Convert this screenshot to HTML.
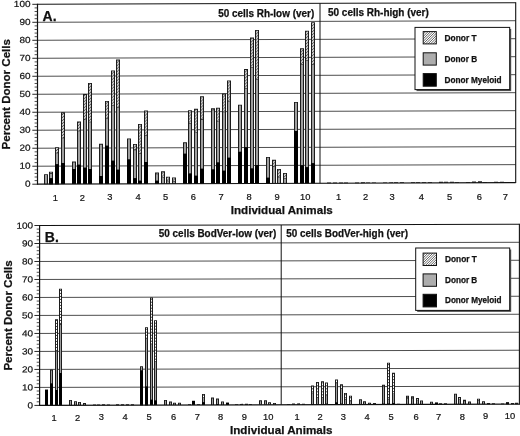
<!DOCTYPE html>
<html><head><meta charset="utf-8"><title>Donor cell chart</title>
<style>html,body{margin:0;padding:0;background:#fff;}svg{display:block;will-change:transform;}</style></head><body>
<svg width="520" height="436" viewBox="0 0 520 436">
<defs>
<pattern id="hatch" patternUnits="userSpaceOnUse" width="3" height="3"><rect width="3" height="3" fill="#fff"/><path d="M-0.5,3.5 L3.5,-0.5 M-0.5,0.5 L0.5,-0.5 M2.5,3.5 L3.5,2.5" stroke="#3a3a3a" stroke-width="0.95" fill="none"/></pattern>
<pattern id="hatchL" patternUnits="userSpaceOnUse" width="2" height="2"><rect width="2" height="2" fill="#fff"/><path d="M-0.5,2.5 L2.5,-0.5 M-0.5,0.5 L0.5,-0.5 M1.5,2.5 L2.5,1.5" stroke="#333" stroke-width="0.55" fill="none"/></pattern>
<pattern id="hatchB" patternUnits="userSpaceOnUse" width="3" height="3"><rect width="3" height="3" fill="#fff"/><rect y="2" width="3" height="1" fill="#444"/></pattern>
</defs>
<rect width="520" height="436" fill="#fff"/>
<g transform="matrix(1,-0.0033,0,1,0,0.124)">
<line x1="37.5" y1="166.21" x2="515.7" y2="166.21" stroke="#2e2e2e" stroke-width="0.85"/>
<line x1="37.5" y1="148.22" x2="515.7" y2="148.22" stroke="#2e2e2e" stroke-width="0.85"/>
<line x1="37.5" y1="130.23" x2="515.7" y2="130.23" stroke="#2e2e2e" stroke-width="0.85"/>
<line x1="37.5" y1="112.24" x2="515.7" y2="112.24" stroke="#2e2e2e" stroke-width="0.85"/>
<line x1="37.5" y1="94.25" x2="515.7" y2="94.25" stroke="#2e2e2e" stroke-width="0.85"/>
<line x1="37.5" y1="76.26" x2="515.7" y2="76.26" stroke="#2e2e2e" stroke-width="0.85"/>
<line x1="37.5" y1="58.27" x2="515.7" y2="58.27" stroke="#2e2e2e" stroke-width="0.85"/>
<line x1="37.5" y1="40.28" x2="515.7" y2="40.28" stroke="#2e2e2e" stroke-width="0.85"/>
<line x1="37.5" y1="22.29" x2="515.7" y2="22.29" stroke="#2e2e2e" stroke-width="0.85"/>
<rect x="44" y="174.27" width="4" height="9.93" fill="#1c1c1c"/>
<rect x="45" y="175.12" width="2" height="9.08" fill="#9e9e9e"/>
<rect x="49" y="171.75" width="4" height="12.45" fill="#1c1c1c"/>
<rect x="50" y="172.60" width="2" height="0.54" fill="url(#hatch)"/>
<rect x="50" y="173.68" width="2" height="4.59" fill="#9e9e9e"/>
<rect x="49" y="178.26" width="4" height="5.94" fill="#000"/>
<rect x="55" y="147.28" width="4" height="36.92" fill="#1c1c1c"/>
<rect x="56" y="148.13" width="2" height="4.68" fill="url(#hatch)"/>
<rect x="56" y="153.35" width="2" height="10.88" fill="#9e9e9e"/>
<rect x="55" y="164.23" width="4" height="19.97" fill="#000"/>
<rect x="61" y="112.38" width="4" height="71.82" fill="#1c1c1c"/>
<rect x="62" y="113.23" width="2" height="24.65" fill="url(#hatch)"/>
<rect x="62" y="138.42" width="2" height="24.74" fill="#9e9e9e"/>
<rect x="61" y="163.15" width="4" height="21.05" fill="#000"/>
<rect x="72" y="161.67" width="4" height="22.53" fill="#1c1c1c"/>
<rect x="73" y="162.52" width="2" height="6.57" fill="#9e9e9e"/>
<rect x="72" y="169.09" width="4" height="15.11" fill="#000"/>
<rect x="77" y="121.73" width="4" height="62.47" fill="#1c1c1c"/>
<rect x="78" y="122.58" width="2" height="8.27" fill="url(#hatch)"/>
<rect x="78" y="131.40" width="2" height="33.55" fill="#9e9e9e"/>
<rect x="77" y="164.95" width="4" height="19.25" fill="#000"/>
<rect x="83" y="94.21" width="4" height="89.99" fill="#1c1c1c"/>
<rect x="84" y="95.06" width="2" height="24.65" fill="url(#hatch)"/>
<rect x="84" y="120.25" width="2" height="47.76" fill="#9e9e9e"/>
<rect x="83" y="168.01" width="4" height="16.19" fill="#000"/>
<rect x="88" y="83.06" width="4" height="101.14" fill="#1c1c1c"/>
<rect x="89" y="83.91" width="2" height="37.96" fill="url(#hatch)"/>
<rect x="89" y="122.40" width="2" height="46.68" fill="#9e9e9e"/>
<rect x="88" y="169.09" width="4" height="15.11" fill="#000"/>
<rect x="99" y="144.04" width="4" height="40.16" fill="#1c1c1c"/>
<rect x="100" y="144.89" width="2" height="31.21" fill="#9e9e9e"/>
<rect x="99" y="176.10" width="4" height="8.10" fill="#000"/>
<rect x="105" y="101.23" width="4" height="82.97" fill="#1c1c1c"/>
<rect x="106" y="102.08" width="2" height="16.19" fill="url(#hatch)"/>
<rect x="106" y="118.81" width="2" height="27.25" fill="#9e9e9e"/>
<rect x="105" y="146.06" width="4" height="38.14" fill="#000"/>
<rect x="111" y="70.64" width="4" height="113.56" fill="#1c1c1c"/>
<rect x="112" y="71.49" width="2" height="33.82" fill="url(#hatch)"/>
<rect x="112" y="105.85" width="2" height="55.14" fill="#9e9e9e"/>
<rect x="111" y="160.99" width="4" height="23.21" fill="#000"/>
<rect x="116" y="59.85" width="4" height="124.35" fill="#1c1c1c"/>
<rect x="117" y="60.70" width="2" height="46.77" fill="url(#hatch)"/>
<rect x="117" y="108.01" width="2" height="61.98" fill="#9e9e9e"/>
<rect x="116" y="169.99" width="4" height="14.21" fill="#000"/>
<rect x="127" y="138.82" width="4" height="45.37" fill="#1c1c1c"/>
<rect x="128" y="139.67" width="2" height="20.06" fill="#9e9e9e"/>
<rect x="127" y="159.73" width="4" height="24.47" fill="#000"/>
<rect x="133" y="144.22" width="4" height="39.98" fill="#1c1c1c"/>
<rect x="134" y="145.07" width="2" height="4.86" fill="url(#hatch)"/>
<rect x="134" y="150.47" width="2" height="28.15" fill="#9e9e9e"/>
<rect x="133" y="178.62" width="4" height="5.58" fill="#000"/>
<rect x="138" y="124.25" width="4" height="59.95" fill="#1c1c1c"/>
<rect x="139" y="125.10" width="2" height="28.78" fill="url(#hatch)"/>
<rect x="139" y="154.43" width="2" height="26.71" fill="#9e9e9e"/>
<rect x="138" y="181.14" width="4" height="3.06" fill="#000"/>
<rect x="144" y="110.76" width="4" height="73.44" fill="#1c1c1c"/>
<rect x="145" y="111.61" width="2" height="23.93" fill="url(#hatch)"/>
<rect x="145" y="136.08" width="2" height="26.18" fill="#9e9e9e"/>
<rect x="144" y="162.25" width="4" height="21.95" fill="#000"/>
<rect x="155" y="172.83" width="4" height="11.37" fill="#1c1c1c"/>
<rect x="156" y="173.68" width="2" height="0.36" fill="url(#hatch)"/>
<rect x="156" y="174.58" width="2" height="6.57" fill="#9e9e9e"/>
<rect x="155" y="181.14" width="4" height="3.06" fill="#000"/>
<rect x="161" y="171.75" width="4" height="12.45" fill="#1c1c1c"/>
<rect x="162" y="172.60" width="2" height="5.40" fill="url(#hatch)"/>
<rect x="162" y="178.53" width="2" height="5.67" fill="#9e9e9e"/>
<rect x="166" y="177.14" width="4" height="7.06" fill="#1c1c1c"/>
<rect x="167" y="177.99" width="2" height="3.24" fill="url(#hatch)"/>
<rect x="167" y="181.77" width="2" height="2.43" fill="#9e9e9e"/>
<rect x="172" y="177.86" width="4" height="6.34" fill="#1c1c1c"/>
<rect x="173" y="178.71" width="2" height="2.88" fill="url(#hatch)"/>
<rect x="173" y="182.13" width="2" height="2.07" fill="#9e9e9e"/>
<rect x="183" y="142.78" width="4" height="41.42" fill="#1c1c1c"/>
<rect x="184" y="143.63" width="2" height="10.52" fill="#9e9e9e"/>
<rect x="183" y="154.16" width="4" height="30.04" fill="#000"/>
<rect x="188" y="110.76" width="4" height="73.44" fill="#1c1c1c"/>
<rect x="189" y="111.61" width="2" height="11.87" fill="url(#hatch)"/>
<rect x="189" y="124.02" width="2" height="50.10" fill="#9e9e9e"/>
<rect x="188" y="174.13" width="4" height="10.07" fill="#000"/>
<rect x="194" y="109.32" width="4" height="74.88" fill="#1c1c1c"/>
<rect x="195" y="110.17" width="2" height="22.85" fill="url(#hatch)"/>
<rect x="195" y="133.56" width="2" height="42.73" fill="#9e9e9e"/>
<rect x="194" y="176.28" width="4" height="7.92" fill="#000"/>
<rect x="200" y="96.73" width="4" height="87.47" fill="#1c1c1c"/>
<rect x="201" y="97.58" width="2" height="22.31" fill="url(#hatch)"/>
<rect x="201" y="120.43" width="2" height="48.84" fill="#9e9e9e"/>
<rect x="200" y="169.27" width="4" height="14.93" fill="#000"/>
<rect x="211" y="108.78" width="4" height="75.42" fill="#1c1c1c"/>
<rect x="212" y="109.63" width="2" height="0.54" fill="url(#hatch)"/>
<rect x="212" y="110.71" width="2" height="59.46" fill="#9e9e9e"/>
<rect x="211" y="170.17" width="4" height="14.03" fill="#000"/>
<rect x="216" y="108.24" width="4" height="75.96" fill="#1c1c1c"/>
<rect x="217" y="109.09" width="2" height="12.95" fill="url(#hatch)"/>
<rect x="217" y="122.58" width="2" height="40.57" fill="#9e9e9e"/>
<rect x="216" y="163.15" width="4" height="21.05" fill="#000"/>
<rect x="222" y="94.21" width="4" height="89.99" fill="#1c1c1c"/>
<rect x="223" y="95.06" width="2" height="17.27" fill="url(#hatch)"/>
<rect x="223" y="112.87" width="2" height="58.38" fill="#9e9e9e"/>
<rect x="222" y="171.25" width="4" height="12.95" fill="#000"/>
<rect x="227" y="81.08" width="4" height="103.12" fill="#1c1c1c"/>
<rect x="228" y="81.93" width="2" height="20.15" fill="url(#hatch)"/>
<rect x="228" y="102.62" width="2" height="55.68" fill="#9e9e9e"/>
<rect x="227" y="158.29" width="4" height="25.91" fill="#000"/>
<rect x="238" y="105.36" width="4" height="78.84" fill="#1c1c1c"/>
<rect x="239" y="106.21" width="2" height="46.32" fill="#9e9e9e"/>
<rect x="238" y="152.54" width="4" height="31.66" fill="#000"/>
<rect x="244" y="69.74" width="4" height="114.46" fill="#1c1c1c"/>
<rect x="245" y="70.59" width="2" height="18.17" fill="url(#hatch)"/>
<rect x="245" y="89.30" width="2" height="58.56" fill="#9e9e9e"/>
<rect x="244" y="147.86" width="4" height="36.34" fill="#000"/>
<rect x="250" y="38.26" width="4" height="145.94" fill="#1c1c1c"/>
<rect x="251" y="39.11" width="2" height="28.60" fill="url(#hatch)"/>
<rect x="251" y="68.25" width="2" height="101.01" fill="#9e9e9e"/>
<rect x="250" y="169.27" width="4" height="14.93" fill="#000"/>
<rect x="255" y="30.71" width="4" height="153.49" fill="#1c1c1c"/>
<rect x="256" y="31.56" width="2" height="48.21" fill="url(#hatch)"/>
<rect x="256" y="80.31" width="2" height="85.54" fill="#9e9e9e"/>
<rect x="255" y="165.85" width="4" height="18.35" fill="#000"/>
<rect x="266" y="157.71" width="4" height="26.49" fill="#1c1c1c"/>
<rect x="267" y="158.56" width="2" height="19.88" fill="#9e9e9e"/>
<rect x="266" y="178.44" width="4" height="5.76" fill="#000"/>
<rect x="272" y="160.59" width="4" height="23.61" fill="#1c1c1c"/>
<rect x="273" y="161.44" width="2" height="5.76" fill="url(#hatch)"/>
<rect x="273" y="167.74" width="2" height="16.46" fill="#9e9e9e"/>
<rect x="277" y="169.77" width="4" height="14.43" fill="#1c1c1c"/>
<rect x="278" y="170.62" width="2" height="7.02" fill="url(#hatch)"/>
<rect x="278" y="178.17" width="2" height="6.03" fill="#9e9e9e"/>
<rect x="283" y="173.73" width="4" height="10.47" fill="#1c1c1c"/>
<rect x="284" y="174.58" width="2" height="4.14" fill="url(#hatch)"/>
<rect x="284" y="179.25" width="2" height="4.95" fill="#9e9e9e"/>
<rect x="294" y="102.84" width="4" height="81.35" fill="#1c1c1c"/>
<rect x="295" y="103.70" width="2" height="28.15" fill="#9e9e9e"/>
<rect x="294" y="131.85" width="4" height="52.35" fill="#000"/>
<rect x="300" y="49.23" width="4" height="134.97" fill="#1c1c1c"/>
<rect x="301" y="50.08" width="2" height="15.11" fill="url(#hatch)"/>
<rect x="301" y="65.74" width="2" height="100.47" fill="#9e9e9e"/>
<rect x="300" y="166.21" width="4" height="17.99" fill="#000"/>
<rect x="305" y="31.60" width="4" height="152.60" fill="#1c1c1c"/>
<rect x="306" y="32.45" width="2" height="28.42" fill="url(#hatch)"/>
<rect x="306" y="61.42" width="2" height="106.77" fill="#9e9e9e"/>
<rect x="305" y="168.19" width="4" height="16.01" fill="#000"/>
<rect x="311" y="23.15" width="4" height="161.05" fill="#1c1c1c"/>
<rect x="312" y="24.00" width="2" height="41.20" fill="url(#hatch)"/>
<rect x="312" y="65.74" width="2" height="98.50" fill="#9e9e9e"/>
<rect x="311" y="164.23" width="4" height="19.97" fill="#000"/>
<rect x="327" y="183.54" width="4" height="0.66" fill="#222"/>
<rect x="333" y="183.54" width="4" height="0.66" fill="#222"/>
<rect x="339" y="183.54" width="4" height="0.66" fill="#222"/>
<rect x="344" y="183.54" width="4" height="0.66" fill="#222"/>
<rect x="355" y="183.54" width="4" height="0.66" fill="#222"/>
<rect x="361" y="183.36" width="4" height="0.84" fill="#222"/>
<rect x="366" y="183.54" width="4" height="0.66" fill="#222"/>
<rect x="372" y="183.54" width="4" height="0.66" fill="#222"/>
<rect x="383" y="183.54" width="4" height="0.66" fill="#222"/>
<rect x="389" y="183.54" width="4" height="0.66" fill="#222"/>
<rect x="394" y="183.54" width="4" height="0.66" fill="#222"/>
<rect x="400" y="183.54" width="4" height="0.66" fill="#222"/>
<rect x="411" y="183.54" width="4" height="0.66" fill="#222"/>
<rect x="416" y="183.54" width="4" height="0.66" fill="#222"/>
<rect x="422" y="183.54" width="4" height="0.66" fill="#222"/>
<rect x="428" y="183.54" width="4" height="0.66" fill="#222"/>
<rect x="439" y="183.00" width="4" height="1.20" fill="#222"/>
<rect x="444" y="183.18" width="4" height="1.02" fill="#222"/>
<rect x="450" y="183.18" width="4" height="1.02" fill="#222"/>
<rect x="455" y="183.36" width="4" height="0.84" fill="#222"/>
<rect x="466" y="183.36" width="4" height="0.84" fill="#222"/>
<rect x="472" y="183.00" width="4" height="1.20" fill="#222"/>
<rect x="478" y="182.82" width="4" height="1.38" fill="#222"/>
<rect x="483" y="183.54" width="4" height="0.66" fill="#222"/>
<rect x="494" y="183.36" width="4" height="0.84" fill="#222"/>
<rect x="500" y="183.36" width="4" height="0.84" fill="#222"/>
<rect x="505" y="183.54" width="4" height="0.66" fill="#222"/>
<rect x="511" y="183.54" width="4" height="0.66" fill="#222"/>
<line x1="37.5" y1="4.3" x2="515.7" y2="4.3" stroke="#111" stroke-width="1"/>
<line x1="37.5" y1="184.2" x2="515.7" y2="184.2" stroke="#111" stroke-width="1.2"/>
<line x1="37.5" y1="3.8" x2="37.5" y2="184.7" stroke="#111" stroke-width="1.2"/>
<line x1="515.7" y1="3.8" x2="515.7" y2="184.7" stroke="#111" stroke-width="1.1"/>
<line x1="320.0" y1="4.3" x2="320.0" y2="184.2" stroke="#111" stroke-width="1"/>
<line x1="32.3" y1="184.20" x2="37.5" y2="184.20" stroke="#111" stroke-width="0.9"/>
<text x="30.50" y="186.80" font-size="8.8" text-anchor="end" font-family="Liberation Sans, sans-serif" fill="#111" stroke="#111" stroke-width="0.2" textLength="5.55" lengthAdjust="spacingAndGlyphs">0</text>
<line x1="34.6" y1="180.60" x2="37.5" y2="180.60" stroke="#222" stroke-width="0.8"/>
<line x1="34.6" y1="177.00" x2="37.5" y2="177.00" stroke="#222" stroke-width="0.8"/>
<line x1="34.6" y1="173.41" x2="37.5" y2="173.41" stroke="#222" stroke-width="0.8"/>
<line x1="34.6" y1="169.81" x2="37.5" y2="169.81" stroke="#222" stroke-width="0.8"/>
<line x1="32.3" y1="166.21" x2="37.5" y2="166.21" stroke="#111" stroke-width="0.9"/>
<text x="30.50" y="168.81" font-size="8.8" text-anchor="end" font-family="Liberation Sans, sans-serif" fill="#111" stroke="#111" stroke-width="0.2" textLength="11.10" lengthAdjust="spacingAndGlyphs">10</text>
<line x1="34.6" y1="162.61" x2="37.5" y2="162.61" stroke="#222" stroke-width="0.8"/>
<line x1="34.6" y1="159.01" x2="37.5" y2="159.01" stroke="#222" stroke-width="0.8"/>
<line x1="34.6" y1="155.42" x2="37.5" y2="155.42" stroke="#222" stroke-width="0.8"/>
<line x1="34.6" y1="151.82" x2="37.5" y2="151.82" stroke="#222" stroke-width="0.8"/>
<line x1="32.3" y1="148.22" x2="37.5" y2="148.22" stroke="#111" stroke-width="0.9"/>
<text x="30.50" y="150.82" font-size="8.8" text-anchor="end" font-family="Liberation Sans, sans-serif" fill="#111" stroke="#111" stroke-width="0.2" textLength="11.10" lengthAdjust="spacingAndGlyphs">20</text>
<line x1="34.6" y1="144.62" x2="37.5" y2="144.62" stroke="#222" stroke-width="0.8"/>
<line x1="34.6" y1="141.02" x2="37.5" y2="141.02" stroke="#222" stroke-width="0.8"/>
<line x1="34.6" y1="137.43" x2="37.5" y2="137.43" stroke="#222" stroke-width="0.8"/>
<line x1="34.6" y1="133.83" x2="37.5" y2="133.83" stroke="#222" stroke-width="0.8"/>
<line x1="32.3" y1="130.23" x2="37.5" y2="130.23" stroke="#111" stroke-width="0.9"/>
<text x="30.50" y="132.83" font-size="8.8" text-anchor="end" font-family="Liberation Sans, sans-serif" fill="#111" stroke="#111" stroke-width="0.2" textLength="11.10" lengthAdjust="spacingAndGlyphs">30</text>
<line x1="34.6" y1="126.63" x2="37.5" y2="126.63" stroke="#222" stroke-width="0.8"/>
<line x1="34.6" y1="123.03" x2="37.5" y2="123.03" stroke="#222" stroke-width="0.8"/>
<line x1="34.6" y1="119.44" x2="37.5" y2="119.44" stroke="#222" stroke-width="0.8"/>
<line x1="34.6" y1="115.84" x2="37.5" y2="115.84" stroke="#222" stroke-width="0.8"/>
<line x1="32.3" y1="112.24" x2="37.5" y2="112.24" stroke="#111" stroke-width="0.9"/>
<text x="30.50" y="114.84" font-size="8.8" text-anchor="end" font-family="Liberation Sans, sans-serif" fill="#111" stroke="#111" stroke-width="0.2" textLength="11.10" lengthAdjust="spacingAndGlyphs">40</text>
<line x1="34.6" y1="108.64" x2="37.5" y2="108.64" stroke="#222" stroke-width="0.8"/>
<line x1="34.6" y1="105.04" x2="37.5" y2="105.04" stroke="#222" stroke-width="0.8"/>
<line x1="34.6" y1="101.45" x2="37.5" y2="101.45" stroke="#222" stroke-width="0.8"/>
<line x1="34.6" y1="97.85" x2="37.5" y2="97.85" stroke="#222" stroke-width="0.8"/>
<line x1="32.3" y1="94.25" x2="37.5" y2="94.25" stroke="#111" stroke-width="0.9"/>
<text x="30.50" y="96.85" font-size="8.8" text-anchor="end" font-family="Liberation Sans, sans-serif" fill="#111" stroke="#111" stroke-width="0.2" textLength="11.10" lengthAdjust="spacingAndGlyphs">50</text>
<line x1="34.6" y1="90.65" x2="37.5" y2="90.65" stroke="#222" stroke-width="0.8"/>
<line x1="34.6" y1="87.05" x2="37.5" y2="87.05" stroke="#222" stroke-width="0.8"/>
<line x1="34.6" y1="83.46" x2="37.5" y2="83.46" stroke="#222" stroke-width="0.8"/>
<line x1="34.6" y1="79.86" x2="37.5" y2="79.86" stroke="#222" stroke-width="0.8"/>
<line x1="32.3" y1="76.26" x2="37.5" y2="76.26" stroke="#111" stroke-width="0.9"/>
<text x="30.50" y="78.86" font-size="8.8" text-anchor="end" font-family="Liberation Sans, sans-serif" fill="#111" stroke="#111" stroke-width="0.2" textLength="11.10" lengthAdjust="spacingAndGlyphs">60</text>
<line x1="34.6" y1="72.66" x2="37.5" y2="72.66" stroke="#222" stroke-width="0.8"/>
<line x1="34.6" y1="69.06" x2="37.5" y2="69.06" stroke="#222" stroke-width="0.8"/>
<line x1="34.6" y1="65.47" x2="37.5" y2="65.47" stroke="#222" stroke-width="0.8"/>
<line x1="34.6" y1="61.87" x2="37.5" y2="61.87" stroke="#222" stroke-width="0.8"/>
<line x1="32.3" y1="58.27" x2="37.5" y2="58.27" stroke="#111" stroke-width="0.9"/>
<text x="30.50" y="60.87" font-size="8.8" text-anchor="end" font-family="Liberation Sans, sans-serif" fill="#111" stroke="#111" stroke-width="0.2" textLength="11.10" lengthAdjust="spacingAndGlyphs">70</text>
<line x1="34.6" y1="54.67" x2="37.5" y2="54.67" stroke="#222" stroke-width="0.8"/>
<line x1="34.6" y1="51.07" x2="37.5" y2="51.07" stroke="#222" stroke-width="0.8"/>
<line x1="34.6" y1="47.48" x2="37.5" y2="47.48" stroke="#222" stroke-width="0.8"/>
<line x1="34.6" y1="43.88" x2="37.5" y2="43.88" stroke="#222" stroke-width="0.8"/>
<line x1="32.3" y1="40.28" x2="37.5" y2="40.28" stroke="#111" stroke-width="0.9"/>
<text x="30.50" y="42.88" font-size="8.8" text-anchor="end" font-family="Liberation Sans, sans-serif" fill="#111" stroke="#111" stroke-width="0.2" textLength="11.10" lengthAdjust="spacingAndGlyphs">80</text>
<line x1="34.6" y1="36.68" x2="37.5" y2="36.68" stroke="#222" stroke-width="0.8"/>
<line x1="34.6" y1="33.08" x2="37.5" y2="33.08" stroke="#222" stroke-width="0.8"/>
<line x1="34.6" y1="29.49" x2="37.5" y2="29.49" stroke="#222" stroke-width="0.8"/>
<line x1="34.6" y1="25.89" x2="37.5" y2="25.89" stroke="#222" stroke-width="0.8"/>
<line x1="32.3" y1="22.29" x2="37.5" y2="22.29" stroke="#111" stroke-width="0.9"/>
<text x="30.50" y="24.89" font-size="8.8" text-anchor="end" font-family="Liberation Sans, sans-serif" fill="#111" stroke="#111" stroke-width="0.2" textLength="11.10" lengthAdjust="spacingAndGlyphs">90</text>
<line x1="34.6" y1="18.69" x2="37.5" y2="18.69" stroke="#222" stroke-width="0.8"/>
<line x1="34.6" y1="15.09" x2="37.5" y2="15.09" stroke="#222" stroke-width="0.8"/>
<line x1="34.6" y1="11.50" x2="37.5" y2="11.50" stroke="#222" stroke-width="0.8"/>
<line x1="34.6" y1="7.90" x2="37.5" y2="7.90" stroke="#222" stroke-width="0.8"/>
<line x1="32.3" y1="4.30" x2="37.5" y2="4.30" stroke="#111" stroke-width="0.9"/>
<text x="30.50" y="6.90" font-size="8.8" text-anchor="end" font-family="Liberation Sans, sans-serif" fill="#111" stroke="#111" stroke-width="0.2" textLength="16.65" lengthAdjust="spacingAndGlyphs">100</text>
</g>
<g transform="matrix(1,-0.0025,0,1,0,0.099)">
<line x1="39.6" y1="387.41" x2="519.4" y2="387.41" stroke="#2e2e2e" stroke-width="0.85"/>
<line x1="39.6" y1="369.42" x2="519.4" y2="369.42" stroke="#2e2e2e" stroke-width="0.85"/>
<line x1="39.6" y1="351.43" x2="519.4" y2="351.43" stroke="#2e2e2e" stroke-width="0.85"/>
<line x1="39.6" y1="333.44" x2="519.4" y2="333.44" stroke="#2e2e2e" stroke-width="0.85"/>
<line x1="39.6" y1="315.45" x2="519.4" y2="315.45" stroke="#2e2e2e" stroke-width="0.85"/>
<line x1="39.6" y1="297.46" x2="519.4" y2="297.46" stroke="#2e2e2e" stroke-width="0.85"/>
<line x1="39.6" y1="279.47" x2="519.4" y2="279.47" stroke="#2e2e2e" stroke-width="0.85"/>
<line x1="39.6" y1="261.48" x2="519.4" y2="261.48" stroke="#2e2e2e" stroke-width="0.85"/>
<line x1="39.6" y1="243.49" x2="519.4" y2="243.49" stroke="#2e2e2e" stroke-width="0.85"/>
<rect x="45" y="389.53" width="3" height="15.87" fill="#1c1c1c"/>
<rect x="45" y="389.93" width="3" height="15.47" fill="#000"/>
<rect x="50" y="369.56" width="3" height="35.84" fill="#1c1c1c"/>
<rect x="51" y="370.41" width="1" height="13.22" fill="#9e9e9e"/>
<rect x="50" y="383.63" width="3" height="21.77" fill="#000"/>
<rect x="55" y="319.19" width="3" height="86.21" fill="#1c1c1c"/>
<rect x="56" y="320.04" width="1" height="31.30" fill="url(#hatchB)"/>
<rect x="56" y="351.88" width="1" height="38.05" fill="#9e9e9e"/>
<rect x="55" y="389.93" width="3" height="15.47" fill="#000"/>
<rect x="59" y="288.78" width="3" height="116.62" fill="#1c1c1c"/>
<rect x="60" y="289.63" width="1" height="34.54" fill="url(#hatchB)"/>
<rect x="60" y="324.71" width="1" height="48.30" fill="#9e9e9e"/>
<rect x="59" y="373.02" width="3" height="32.38" fill="#000"/>
<rect x="69" y="399.96" width="3" height="5.44" fill="#1c1c1c"/>
<rect x="70" y="400.81" width="1" height="4.59" fill="#9e9e9e"/>
<rect x="74" y="401.22" width="3" height="4.18" fill="#1c1c1c"/>
<rect x="75" y="402.07" width="1" height="3.33" fill="#9e9e9e"/>
<rect x="78" y="402.12" width="3" height="3.28" fill="#1c1c1c"/>
<rect x="79" y="402.97" width="1" height="2.43" fill="#9e9e9e"/>
<rect x="83" y="403.20" width="3" height="2.20" fill="#1c1c1c"/>
<rect x="84" y="404.05" width="1" height="1.35" fill="#9e9e9e"/>
<rect x="93" y="404.56" width="3" height="0.84" fill="#222"/>
<rect x="97" y="404.56" width="3" height="0.84" fill="#222"/>
<rect x="102" y="404.38" width="3" height="1.02" fill="#222"/>
<rect x="107" y="404.56" width="3" height="0.84" fill="#222"/>
<rect x="116" y="404.56" width="3" height="0.84" fill="#222"/>
<rect x="121" y="404.38" width="3" height="1.02" fill="#222"/>
<rect x="126" y="404.56" width="3" height="0.84" fill="#222"/>
<rect x="131" y="404.56" width="3" height="0.84" fill="#222"/>
<rect x="140" y="366.50" width="3" height="38.90" fill="#1c1c1c"/>
<rect x="141" y="367.35" width="1" height="3.51" fill="#9e9e9e"/>
<rect x="140" y="370.86" width="3" height="34.54" fill="#000"/>
<rect x="145" y="327.46" width="3" height="77.94" fill="#1c1c1c"/>
<rect x="146" y="328.31" width="1" height="9.89" fill="url(#hatchB)"/>
<rect x="146" y="338.75" width="1" height="48.12" fill="#9e9e9e"/>
<rect x="145" y="386.87" width="3" height="18.53" fill="#000"/>
<rect x="150" y="297.78" width="3" height="107.62" fill="#1c1c1c"/>
<rect x="151" y="298.63" width="1" height="45.33" fill="url(#hatchB)"/>
<rect x="151" y="344.50" width="1" height="55.50" fill="#9e9e9e"/>
<rect x="150" y="400.00" width="3" height="5.40" fill="#000"/>
<rect x="154" y="320.45" width="3" height="84.95" fill="#1c1c1c"/>
<rect x="155" y="321.30" width="1" height="39.94" fill="url(#hatchB)"/>
<rect x="155" y="361.77" width="1" height="38.95" fill="#9e9e9e"/>
<rect x="154" y="400.72" width="3" height="4.68" fill="#000"/>
<rect x="164" y="400.32" width="3" height="5.08" fill="#1c1c1c"/>
<rect x="165" y="401.17" width="1" height="4.23" fill="#9e9e9e"/>
<rect x="169" y="401.94" width="3" height="3.46" fill="#1c1c1c"/>
<rect x="170" y="402.79" width="1" height="2.61" fill="#9e9e9e"/>
<rect x="173" y="403.02" width="3" height="2.38" fill="#1c1c1c"/>
<rect x="174" y="403.87" width="1" height="1.53" fill="#9e9e9e"/>
<rect x="178" y="403.02" width="3" height="2.38" fill="#1c1c1c"/>
<rect x="179" y="403.87" width="1" height="1.53" fill="#9e9e9e"/>
<rect x="188" y="404.56" width="3" height="0.84" fill="#222"/>
<rect x="192" y="401.04" width="3" height="4.36" fill="#1c1c1c"/>
<rect x="192" y="401.44" width="3" height="3.96" fill="#000"/>
<rect x="197" y="404.56" width="3" height="0.84" fill="#222"/>
<rect x="202" y="394.39" width="3" height="11.01" fill="#1c1c1c"/>
<rect x="203" y="395.24" width="1" height="2.70" fill="url(#hatchB)"/>
<rect x="203" y="398.47" width="1" height="4.23" fill="#9e9e9e"/>
<rect x="202" y="402.70" width="3" height="2.70" fill="#000"/>
<rect x="211" y="397.98" width="3" height="7.42" fill="#1c1c1c"/>
<rect x="212" y="398.83" width="1" height="6.57" fill="#9e9e9e"/>
<rect x="216" y="399.06" width="3" height="6.34" fill="#1c1c1c"/>
<rect x="217" y="399.91" width="1" height="4.59" fill="#9e9e9e"/>
<rect x="216" y="404.50" width="3" height="0.90" fill="#000"/>
<rect x="221" y="401.94" width="3" height="3.46" fill="#1c1c1c"/>
<rect x="222" y="402.79" width="1" height="2.61" fill="#9e9e9e"/>
<rect x="226" y="403.02" width="3" height="2.38" fill="#1c1c1c"/>
<rect x="226" y="403.42" width="3" height="1.98" fill="#000"/>
<rect x="235" y="404.74" width="3" height="0.66" fill="#222"/>
<rect x="240" y="404.38" width="3" height="1.02" fill="#222"/>
<rect x="245" y="404.38" width="3" height="1.02" fill="#222"/>
<rect x="249" y="404.56" width="3" height="0.84" fill="#222"/>
<rect x="259" y="400.86" width="3" height="4.54" fill="#1c1c1c"/>
<rect x="260" y="401.71" width="1" height="3.69" fill="#9e9e9e"/>
<rect x="264" y="400.86" width="3" height="4.54" fill="#1c1c1c"/>
<rect x="265" y="401.71" width="1" height="3.69" fill="#9e9e9e"/>
<rect x="268" y="402.84" width="3" height="2.56" fill="#1c1c1c"/>
<rect x="269" y="403.69" width="1" height="1.71" fill="#9e9e9e"/>
<rect x="273" y="403.56" width="3" height="1.84" fill="#1c1c1c"/>
<rect x="274" y="404.41" width="1" height="0.99" fill="#9e9e9e"/>
<rect x="287" y="404.56" width="3" height="0.84" fill="#222"/>
<rect x="292" y="404.20" width="3" height="1.20" fill="#222"/>
<rect x="297" y="404.02" width="3" height="1.38" fill="#222"/>
<rect x="302" y="404.38" width="3" height="1.02" fill="#222"/>
<rect x="311" y="386.29" width="3" height="19.11" fill="#1c1c1c"/>
<rect x="312" y="387.14" width="1" height="6.30" fill="url(#hatchB)"/>
<rect x="312" y="393.98" width="1" height="10.88" fill="#9e9e9e"/>
<rect x="311" y="404.86" width="3" height="0.54" fill="#000"/>
<rect x="316" y="382.69" width="3" height="22.71" fill="#1c1c1c"/>
<rect x="317" y="383.54" width="1" height="14.39" fill="url(#hatchB)"/>
<rect x="317" y="398.47" width="1" height="6.39" fill="#9e9e9e"/>
<rect x="316" y="404.86" width="3" height="0.54" fill="#000"/>
<rect x="321" y="381.97" width="3" height="23.43" fill="#1c1c1c"/>
<rect x="322" y="382.82" width="1" height="15.11" fill="url(#hatchB)"/>
<rect x="322" y="398.47" width="1" height="6.39" fill="#9e9e9e"/>
<rect x="321" y="404.86" width="3" height="0.54" fill="#000"/>
<rect x="325" y="383.23" width="3" height="22.17" fill="#1c1c1c"/>
<rect x="326" y="384.08" width="1" height="12.05" fill="url(#hatchB)"/>
<rect x="326" y="396.67" width="1" height="7.83" fill="#9e9e9e"/>
<rect x="325" y="404.50" width="3" height="0.90" fill="#000"/>
<rect x="335" y="380.17" width="3" height="25.23" fill="#1c1c1c"/>
<rect x="336" y="381.02" width="1" height="2.52" fill="url(#hatchB)"/>
<rect x="336" y="384.08" width="1" height="19.16" fill="#9e9e9e"/>
<rect x="335" y="403.24" width="3" height="2.16" fill="#000"/>
<rect x="340" y="385.03" width="3" height="20.37" fill="#1c1c1c"/>
<rect x="341" y="385.88" width="1" height="3.06" fill="url(#hatchB)"/>
<rect x="341" y="389.48" width="1" height="15.02" fill="#9e9e9e"/>
<rect x="340" y="404.50" width="3" height="0.90" fill="#000"/>
<rect x="344" y="393.67" width="3" height="11.73" fill="#1c1c1c"/>
<rect x="345" y="394.52" width="1" height="5.22" fill="url(#hatchB)"/>
<rect x="345" y="400.27" width="1" height="4.59" fill="#9e9e9e"/>
<rect x="344" y="404.86" width="3" height="0.54" fill="#000"/>
<rect x="349" y="396.54" width="3" height="8.86" fill="#1c1c1c"/>
<rect x="350" y="397.39" width="1" height="4.14" fill="url(#hatchB)"/>
<rect x="350" y="402.07" width="1" height="2.79" fill="#9e9e9e"/>
<rect x="349" y="404.86" width="3" height="0.54" fill="#000"/>
<rect x="359" y="400.14" width="3" height="5.26" fill="#1c1c1c"/>
<rect x="360" y="400.99" width="1" height="4.41" fill="#9e9e9e"/>
<rect x="363" y="402.12" width="3" height="3.28" fill="#1c1c1c"/>
<rect x="364" y="402.97" width="1" height="2.43" fill="#9e9e9e"/>
<rect x="368" y="403.56" width="3" height="1.84" fill="#1c1c1c"/>
<rect x="369" y="404.41" width="1" height="0.99" fill="#9e9e9e"/>
<rect x="373" y="403.84" width="3" height="1.56" fill="#222"/>
<rect x="382" y="385.57" width="3" height="19.83" fill="#1c1c1c"/>
<rect x="383" y="386.42" width="1" height="0.72" fill="url(#hatchB)"/>
<rect x="383" y="387.68" width="1" height="16.82" fill="#9e9e9e"/>
<rect x="382" y="404.50" width="3" height="0.90" fill="#000"/>
<rect x="387" y="363.62" width="3" height="41.78" fill="#1c1c1c"/>
<rect x="388" y="364.47" width="1" height="35.26" fill="url(#hatchB)"/>
<rect x="388" y="400.27" width="1" height="4.23" fill="#9e9e9e"/>
<rect x="387" y="404.50" width="3" height="0.90" fill="#000"/>
<rect x="392" y="373.70" width="3" height="31.70" fill="#1c1c1c"/>
<rect x="393" y="374.55" width="1" height="19.79" fill="url(#hatchB)"/>
<rect x="393" y="394.88" width="1" height="9.26" fill="#9e9e9e"/>
<rect x="392" y="404.14" width="3" height="1.26" fill="#000"/>
<rect x="397" y="404.74" width="3" height="0.66" fill="#222"/>
<rect x="406" y="396.72" width="3" height="8.68" fill="#1c1c1c"/>
<rect x="407" y="397.57" width="1" height="1.26" fill="url(#hatchB)"/>
<rect x="407" y="399.37" width="1" height="6.03" fill="#9e9e9e"/>
<rect x="411" y="397.08" width="3" height="8.32" fill="#1c1c1c"/>
<rect x="412" y="397.93" width="1" height="0.90" fill="url(#hatchB)"/>
<rect x="412" y="399.37" width="1" height="6.03" fill="#9e9e9e"/>
<rect x="416" y="399.06" width="3" height="6.34" fill="#1c1c1c"/>
<rect x="417" y="399.91" width="1" height="0.72" fill="url(#hatchB)"/>
<rect x="417" y="401.17" width="1" height="4.23" fill="#9e9e9e"/>
<rect x="420" y="401.40" width="3" height="4.00" fill="#1c1c1c"/>
<rect x="421" y="402.25" width="1" height="3.15" fill="#9e9e9e"/>
<rect x="430" y="402.66" width="3" height="2.74" fill="#1c1c1c"/>
<rect x="431" y="403.51" width="1" height="1.89" fill="#9e9e9e"/>
<rect x="435" y="403.38" width="3" height="2.02" fill="#1c1c1c"/>
<rect x="435" y="403.78" width="3" height="1.62" fill="#000"/>
<rect x="439" y="404.20" width="3" height="1.20" fill="#222"/>
<rect x="444" y="404.38" width="3" height="1.02" fill="#222"/>
<rect x="454" y="394.75" width="3" height="10.65" fill="#1c1c1c"/>
<rect x="455" y="395.60" width="1" height="9.80" fill="#9e9e9e"/>
<rect x="458" y="398.16" width="3" height="7.24" fill="#1c1c1c"/>
<rect x="459" y="399.01" width="1" height="0.72" fill="url(#hatchB)"/>
<rect x="459" y="400.27" width="1" height="5.13" fill="#9e9e9e"/>
<rect x="463" y="400.86" width="3" height="4.54" fill="#1c1c1c"/>
<rect x="464" y="401.71" width="1" height="0.18" fill="url(#hatchB)"/>
<rect x="464" y="402.43" width="1" height="2.97" fill="#9e9e9e"/>
<rect x="468" y="402.66" width="3" height="2.74" fill="#1c1c1c"/>
<rect x="469" y="403.51" width="1" height="1.89" fill="#9e9e9e"/>
<rect x="477" y="399.78" width="3" height="5.62" fill="#1c1c1c"/>
<rect x="478" y="400.63" width="1" height="0.54" fill="url(#hatchB)"/>
<rect x="478" y="401.71" width="1" height="3.69" fill="#9e9e9e"/>
<rect x="482" y="402.30" width="3" height="3.10" fill="#1c1c1c"/>
<rect x="483" y="403.15" width="1" height="2.25" fill="#9e9e9e"/>
<rect x="487" y="404.20" width="3" height="1.20" fill="#222"/>
<rect x="492" y="404.38" width="3" height="1.02" fill="#222"/>
<rect x="501" y="404.56" width="3" height="0.84" fill="#222"/>
<rect x="506" y="403.38" width="3" height="2.02" fill="#1c1c1c"/>
<rect x="506" y="403.78" width="3" height="1.62" fill="#000"/>
<rect x="511" y="404.20" width="3" height="1.20" fill="#222"/>
<rect x="515" y="404.02" width="3" height="1.38" fill="#222"/>
<line x1="39.6" y1="225.5" x2="519.4" y2="225.5" stroke="#111" stroke-width="1"/>
<line x1="39.6" y1="405.4" x2="519.4" y2="405.4" stroke="#111" stroke-width="1.2"/>
<line x1="39.6" y1="225.0" x2="39.6" y2="405.9" stroke="#111" stroke-width="1.2"/>
<line x1="519.4" y1="225.0" x2="519.4" y2="405.9" stroke="#111" stroke-width="1.1"/>
<line x1="281.2" y1="225.5" x2="281.2" y2="405.4" stroke="#111" stroke-width="1"/>
<line x1="34.4" y1="405.40" x2="39.6" y2="405.40" stroke="#111" stroke-width="0.9"/>
<text x="33.10" y="408.50" font-size="8.8" text-anchor="end" font-family="Liberation Sans, sans-serif" fill="#111" stroke="#111" stroke-width="0.2" textLength="5.55" lengthAdjust="spacingAndGlyphs">0</text>
<line x1="36.7" y1="401.80" x2="39.6" y2="401.80" stroke="#222" stroke-width="0.8"/>
<line x1="36.7" y1="398.20" x2="39.6" y2="398.20" stroke="#222" stroke-width="0.8"/>
<line x1="36.7" y1="394.61" x2="39.6" y2="394.61" stroke="#222" stroke-width="0.8"/>
<line x1="36.7" y1="391.01" x2="39.6" y2="391.01" stroke="#222" stroke-width="0.8"/>
<line x1="34.4" y1="387.41" x2="39.6" y2="387.41" stroke="#111" stroke-width="0.9"/>
<text x="33.10" y="390.51" font-size="8.8" text-anchor="end" font-family="Liberation Sans, sans-serif" fill="#111" stroke="#111" stroke-width="0.2" textLength="11.10" lengthAdjust="spacingAndGlyphs">10</text>
<line x1="36.7" y1="383.81" x2="39.6" y2="383.81" stroke="#222" stroke-width="0.8"/>
<line x1="36.7" y1="380.21" x2="39.6" y2="380.21" stroke="#222" stroke-width="0.8"/>
<line x1="36.7" y1="376.62" x2="39.6" y2="376.62" stroke="#222" stroke-width="0.8"/>
<line x1="36.7" y1="373.02" x2="39.6" y2="373.02" stroke="#222" stroke-width="0.8"/>
<line x1="34.4" y1="369.42" x2="39.6" y2="369.42" stroke="#111" stroke-width="0.9"/>
<text x="33.10" y="372.52" font-size="8.8" text-anchor="end" font-family="Liberation Sans, sans-serif" fill="#111" stroke="#111" stroke-width="0.2" textLength="11.10" lengthAdjust="spacingAndGlyphs">20</text>
<line x1="36.7" y1="365.82" x2="39.6" y2="365.82" stroke="#222" stroke-width="0.8"/>
<line x1="36.7" y1="362.22" x2="39.6" y2="362.22" stroke="#222" stroke-width="0.8"/>
<line x1="36.7" y1="358.63" x2="39.6" y2="358.63" stroke="#222" stroke-width="0.8"/>
<line x1="36.7" y1="355.03" x2="39.6" y2="355.03" stroke="#222" stroke-width="0.8"/>
<line x1="34.4" y1="351.43" x2="39.6" y2="351.43" stroke="#111" stroke-width="0.9"/>
<text x="33.10" y="354.53" font-size="8.8" text-anchor="end" font-family="Liberation Sans, sans-serif" fill="#111" stroke="#111" stroke-width="0.2" textLength="11.10" lengthAdjust="spacingAndGlyphs">30</text>
<line x1="36.7" y1="347.83" x2="39.6" y2="347.83" stroke="#222" stroke-width="0.8"/>
<line x1="36.7" y1="344.23" x2="39.6" y2="344.23" stroke="#222" stroke-width="0.8"/>
<line x1="36.7" y1="340.64" x2="39.6" y2="340.64" stroke="#222" stroke-width="0.8"/>
<line x1="36.7" y1="337.04" x2="39.6" y2="337.04" stroke="#222" stroke-width="0.8"/>
<line x1="34.4" y1="333.44" x2="39.6" y2="333.44" stroke="#111" stroke-width="0.9"/>
<text x="33.10" y="336.54" font-size="8.8" text-anchor="end" font-family="Liberation Sans, sans-serif" fill="#111" stroke="#111" stroke-width="0.2" textLength="11.10" lengthAdjust="spacingAndGlyphs">40</text>
<line x1="36.7" y1="329.84" x2="39.6" y2="329.84" stroke="#222" stroke-width="0.8"/>
<line x1="36.7" y1="326.24" x2="39.6" y2="326.24" stroke="#222" stroke-width="0.8"/>
<line x1="36.7" y1="322.65" x2="39.6" y2="322.65" stroke="#222" stroke-width="0.8"/>
<line x1="36.7" y1="319.05" x2="39.6" y2="319.05" stroke="#222" stroke-width="0.8"/>
<line x1="34.4" y1="315.45" x2="39.6" y2="315.45" stroke="#111" stroke-width="0.9"/>
<text x="33.10" y="318.55" font-size="8.8" text-anchor="end" font-family="Liberation Sans, sans-serif" fill="#111" stroke="#111" stroke-width="0.2" textLength="11.10" lengthAdjust="spacingAndGlyphs">50</text>
<line x1="36.7" y1="311.85" x2="39.6" y2="311.85" stroke="#222" stroke-width="0.8"/>
<line x1="36.7" y1="308.25" x2="39.6" y2="308.25" stroke="#222" stroke-width="0.8"/>
<line x1="36.7" y1="304.66" x2="39.6" y2="304.66" stroke="#222" stroke-width="0.8"/>
<line x1="36.7" y1="301.06" x2="39.6" y2="301.06" stroke="#222" stroke-width="0.8"/>
<line x1="34.4" y1="297.46" x2="39.6" y2="297.46" stroke="#111" stroke-width="0.9"/>
<text x="33.10" y="300.56" font-size="8.8" text-anchor="end" font-family="Liberation Sans, sans-serif" fill="#111" stroke="#111" stroke-width="0.2" textLength="11.10" lengthAdjust="spacingAndGlyphs">60</text>
<line x1="36.7" y1="293.86" x2="39.6" y2="293.86" stroke="#222" stroke-width="0.8"/>
<line x1="36.7" y1="290.26" x2="39.6" y2="290.26" stroke="#222" stroke-width="0.8"/>
<line x1="36.7" y1="286.67" x2="39.6" y2="286.67" stroke="#222" stroke-width="0.8"/>
<line x1="36.7" y1="283.07" x2="39.6" y2="283.07" stroke="#222" stroke-width="0.8"/>
<line x1="34.4" y1="279.47" x2="39.6" y2="279.47" stroke="#111" stroke-width="0.9"/>
<text x="33.10" y="282.57" font-size="8.8" text-anchor="end" font-family="Liberation Sans, sans-serif" fill="#111" stroke="#111" stroke-width="0.2" textLength="11.10" lengthAdjust="spacingAndGlyphs">70</text>
<line x1="36.7" y1="275.87" x2="39.6" y2="275.87" stroke="#222" stroke-width="0.8"/>
<line x1="36.7" y1="272.27" x2="39.6" y2="272.27" stroke="#222" stroke-width="0.8"/>
<line x1="36.7" y1="268.68" x2="39.6" y2="268.68" stroke="#222" stroke-width="0.8"/>
<line x1="36.7" y1="265.08" x2="39.6" y2="265.08" stroke="#222" stroke-width="0.8"/>
<line x1="34.4" y1="261.48" x2="39.6" y2="261.48" stroke="#111" stroke-width="0.9"/>
<text x="33.10" y="264.58" font-size="8.8" text-anchor="end" font-family="Liberation Sans, sans-serif" fill="#111" stroke="#111" stroke-width="0.2" textLength="11.10" lengthAdjust="spacingAndGlyphs">80</text>
<line x1="36.7" y1="257.88" x2="39.6" y2="257.88" stroke="#222" stroke-width="0.8"/>
<line x1="36.7" y1="254.28" x2="39.6" y2="254.28" stroke="#222" stroke-width="0.8"/>
<line x1="36.7" y1="250.69" x2="39.6" y2="250.69" stroke="#222" stroke-width="0.8"/>
<line x1="36.7" y1="247.09" x2="39.6" y2="247.09" stroke="#222" stroke-width="0.8"/>
<line x1="34.4" y1="243.49" x2="39.6" y2="243.49" stroke="#111" stroke-width="0.9"/>
<text x="33.10" y="246.59" font-size="8.8" text-anchor="end" font-family="Liberation Sans, sans-serif" fill="#111" stroke="#111" stroke-width="0.2" textLength="11.10" lengthAdjust="spacingAndGlyphs">90</text>
<line x1="36.7" y1="239.89" x2="39.6" y2="239.89" stroke="#222" stroke-width="0.8"/>
<line x1="36.7" y1="236.29" x2="39.6" y2="236.29" stroke="#222" stroke-width="0.8"/>
<line x1="36.7" y1="232.70" x2="39.6" y2="232.70" stroke="#222" stroke-width="0.8"/>
<line x1="36.7" y1="229.10" x2="39.6" y2="229.10" stroke="#222" stroke-width="0.8"/>
<line x1="34.4" y1="225.50" x2="39.6" y2="225.50" stroke="#111" stroke-width="0.9"/>
<text x="33.10" y="228.60" font-size="8.8" text-anchor="end" font-family="Liberation Sans, sans-serif" fill="#111" stroke="#111" stroke-width="0.2" textLength="16.65" lengthAdjust="spacingAndGlyphs">100</text>
</g>
<text x="55.4" y="200.56" font-size="8.8" text-anchor="middle" font-family="Liberation Sans, sans-serif" fill="#111" stroke="#111" stroke-width="0.2" textLength="5.20" lengthAdjust="spacingAndGlyphs">1</text>
<text x="82.3" y="200.51" font-size="8.8" text-anchor="middle" font-family="Liberation Sans, sans-serif" fill="#111" stroke="#111" stroke-width="0.2" textLength="5.20" lengthAdjust="spacingAndGlyphs">2</text>
<text x="109.8" y="200.45" font-size="8.8" text-anchor="middle" font-family="Liberation Sans, sans-serif" fill="#111" stroke="#111" stroke-width="0.2" textLength="5.20" lengthAdjust="spacingAndGlyphs">3</text>
<text x="138" y="200.39" font-size="8.8" text-anchor="middle" font-family="Liberation Sans, sans-serif" fill="#111" stroke="#111" stroke-width="0.2" textLength="5.20" lengthAdjust="spacingAndGlyphs">4</text>
<text x="165.6" y="200.33" font-size="8.8" text-anchor="middle" font-family="Liberation Sans, sans-serif" fill="#111" stroke="#111" stroke-width="0.2" textLength="5.20" lengthAdjust="spacingAndGlyphs">5</text>
<text x="193.3" y="200.27" font-size="8.8" text-anchor="middle" font-family="Liberation Sans, sans-serif" fill="#111" stroke="#111" stroke-width="0.2" textLength="5.20" lengthAdjust="spacingAndGlyphs">6</text>
<text x="221" y="200.21" font-size="8.8" text-anchor="middle" font-family="Liberation Sans, sans-serif" fill="#111" stroke="#111" stroke-width="0.2" textLength="5.20" lengthAdjust="spacingAndGlyphs">7</text>
<text x="249.2" y="200.16" font-size="8.8" text-anchor="middle" font-family="Liberation Sans, sans-serif" fill="#111" stroke="#111" stroke-width="0.2" textLength="5.20" lengthAdjust="spacingAndGlyphs">8</text>
<text x="277" y="200.10" font-size="8.8" text-anchor="middle" font-family="Liberation Sans, sans-serif" fill="#111" stroke="#111" stroke-width="0.2" textLength="5.20" lengthAdjust="spacingAndGlyphs">9</text>
<text x="305.2" y="200.04" font-size="8.8" text-anchor="middle" font-family="Liberation Sans, sans-serif" fill="#111" stroke="#111" stroke-width="0.2" textLength="10.40" lengthAdjust="spacingAndGlyphs">10</text>
<text x="338.6" y="199.97" font-size="8.8" text-anchor="middle" font-family="Liberation Sans, sans-serif" fill="#111" stroke="#111" stroke-width="0.2" textLength="5.20" lengthAdjust="spacingAndGlyphs">1</text>
<text x="365.6" y="199.91" font-size="8.8" text-anchor="middle" font-family="Liberation Sans, sans-serif" fill="#111" stroke="#111" stroke-width="0.2" textLength="5.20" lengthAdjust="spacingAndGlyphs">2</text>
<text x="392" y="199.86" font-size="8.8" text-anchor="middle" font-family="Liberation Sans, sans-serif" fill="#111" stroke="#111" stroke-width="0.2" textLength="5.20" lengthAdjust="spacingAndGlyphs">3</text>
<text x="421.4" y="199.79" font-size="8.8" text-anchor="middle" font-family="Liberation Sans, sans-serif" fill="#111" stroke="#111" stroke-width="0.2" textLength="5.20" lengthAdjust="spacingAndGlyphs">4</text>
<text x="449.6" y="199.73" font-size="8.8" text-anchor="middle" font-family="Liberation Sans, sans-serif" fill="#111" stroke="#111" stroke-width="0.2" textLength="5.20" lengthAdjust="spacingAndGlyphs">5</text>
<text x="479.4" y="199.67" font-size="8.8" text-anchor="middle" font-family="Liberation Sans, sans-serif" fill="#111" stroke="#111" stroke-width="0.2" textLength="5.20" lengthAdjust="spacingAndGlyphs">6</text>
<text x="505.4" y="199.62" font-size="8.8" text-anchor="middle" font-family="Liberation Sans, sans-serif" fill="#111" stroke="#111" stroke-width="0.2" textLength="5.20" lengthAdjust="spacingAndGlyphs">7</text>
<text x="54" y="420.56" font-size="8.8" text-anchor="middle" font-family="Liberation Sans, sans-serif" fill="#111" stroke="#111" stroke-width="0.2" textLength="5.20" lengthAdjust="spacingAndGlyphs">1</text>
<text x="77.6" y="420.50" font-size="8.8" text-anchor="middle" font-family="Liberation Sans, sans-serif" fill="#111" stroke="#111" stroke-width="0.2" textLength="5.20" lengthAdjust="spacingAndGlyphs">2</text>
<text x="101.4" y="420.45" font-size="8.8" text-anchor="middle" font-family="Liberation Sans, sans-serif" fill="#111" stroke="#111" stroke-width="0.2" textLength="5.20" lengthAdjust="spacingAndGlyphs">3</text>
<text x="125.1" y="420.39" font-size="8.8" text-anchor="middle" font-family="Liberation Sans, sans-serif" fill="#111" stroke="#111" stroke-width="0.2" textLength="5.20" lengthAdjust="spacingAndGlyphs">4</text>
<text x="149.2" y="420.33" font-size="8.8" text-anchor="middle" font-family="Liberation Sans, sans-serif" fill="#111" stroke="#111" stroke-width="0.2" textLength="5.20" lengthAdjust="spacingAndGlyphs">5</text>
<text x="173.6" y="420.27" font-size="8.8" text-anchor="middle" font-family="Liberation Sans, sans-serif" fill="#111" stroke="#111" stroke-width="0.2" textLength="5.20" lengthAdjust="spacingAndGlyphs">6</text>
<text x="197.3" y="420.21" font-size="8.8" text-anchor="middle" font-family="Liberation Sans, sans-serif" fill="#111" stroke="#111" stroke-width="0.2" textLength="5.20" lengthAdjust="spacingAndGlyphs">7</text>
<text x="220.6" y="420.15" font-size="8.8" text-anchor="middle" font-family="Liberation Sans, sans-serif" fill="#111" stroke="#111" stroke-width="0.2" textLength="5.20" lengthAdjust="spacingAndGlyphs">8</text>
<text x="244.3" y="420.09" font-size="8.8" text-anchor="middle" font-family="Liberation Sans, sans-serif" fill="#111" stroke="#111" stroke-width="0.2" textLength="5.20" lengthAdjust="spacingAndGlyphs">9</text>
<text x="268.2" y="420.03" font-size="8.8" text-anchor="middle" font-family="Liberation Sans, sans-serif" fill="#111" stroke="#111" stroke-width="0.2" textLength="10.40" lengthAdjust="spacingAndGlyphs">10</text>
<text x="297" y="419.96" font-size="8.8" text-anchor="middle" font-family="Liberation Sans, sans-serif" fill="#111" stroke="#111" stroke-width="0.2" textLength="5.20" lengthAdjust="spacingAndGlyphs">1</text>
<text x="320" y="419.90" font-size="8.8" text-anchor="middle" font-family="Liberation Sans, sans-serif" fill="#111" stroke="#111" stroke-width="0.2" textLength="5.20" lengthAdjust="spacingAndGlyphs">2</text>
<text x="343.4" y="419.84" font-size="8.8" text-anchor="middle" font-family="Liberation Sans, sans-serif" fill="#111" stroke="#111" stroke-width="0.2" textLength="5.20" lengthAdjust="spacingAndGlyphs">3</text>
<text x="367.2" y="419.78" font-size="8.8" text-anchor="middle" font-family="Liberation Sans, sans-serif" fill="#111" stroke="#111" stroke-width="0.2" textLength="5.20" lengthAdjust="spacingAndGlyphs">4</text>
<text x="391" y="419.72" font-size="8.8" text-anchor="middle" font-family="Liberation Sans, sans-serif" fill="#111" stroke="#111" stroke-width="0.2" textLength="5.20" lengthAdjust="spacingAndGlyphs">5</text>
<text x="416.2" y="419.66" font-size="8.8" text-anchor="middle" font-family="Liberation Sans, sans-serif" fill="#111" stroke="#111" stroke-width="0.2" textLength="5.20" lengthAdjust="spacingAndGlyphs">6</text>
<text x="438.5" y="419.60" font-size="8.8" text-anchor="middle" font-family="Liberation Sans, sans-serif" fill="#111" stroke="#111" stroke-width="0.2" textLength="5.20" lengthAdjust="spacingAndGlyphs">7</text>
<text x="462.3" y="419.54" font-size="8.8" text-anchor="middle" font-family="Liberation Sans, sans-serif" fill="#111" stroke="#111" stroke-width="0.2" textLength="5.20" lengthAdjust="spacingAndGlyphs">8</text>
<text x="485.5" y="419.49" font-size="8.8" text-anchor="middle" font-family="Liberation Sans, sans-serif" fill="#111" stroke="#111" stroke-width="0.2" textLength="5.20" lengthAdjust="spacingAndGlyphs">9</text>
<text x="510" y="419.42" font-size="8.8" text-anchor="middle" font-family="Liberation Sans, sans-serif" fill="#111" stroke="#111" stroke-width="0.2" textLength="10.40" lengthAdjust="spacingAndGlyphs">10</text>
<text x="230.8" y="213.6" font-size="11.6" font-weight="bold" font-family="Liberation Sans, sans-serif" fill="#111" stroke="#111" stroke-width="0.25" textLength="102" lengthAdjust="spacingAndGlyphs">Individual Animals</text>
<text x="230" y="434" font-size="11.6" font-weight="bold" font-family="Liberation Sans, sans-serif" fill="#111" stroke="#111" stroke-width="0.25" textLength="102.5" lengthAdjust="spacingAndGlyphs">Individual Animals</text>
<text transform="translate(10.0,149.4) rotate(-90)" font-size="11.4" font-weight="bold" font-family="Liberation Sans, sans-serif" fill="#111" stroke="#111" stroke-width="0.25" textLength="110.3" lengthAdjust="spacingAndGlyphs">Percent Donor Cells</text>
<text transform="translate(12.0,370.6) rotate(-90)" font-size="11.4" font-weight="bold" font-family="Liberation Sans, sans-serif" fill="#111" stroke="#111" stroke-width="0.25" textLength="110.3" lengthAdjust="spacingAndGlyphs">Percent Donor Cells</text>
<text x="42.6" y="20.6" font-size="14" font-weight="bold" font-family="Liberation Sans, sans-serif" fill="#111" stroke="#111" stroke-width="0.25">A.</text>
<text x="44.8" y="242.3" font-size="14" font-weight="bold" font-family="Liberation Sans, sans-serif" fill="#111" stroke="#111" stroke-width="0.25">B.</text>
<text x="218.2" y="16.9" font-size="10" font-weight="bold" font-family="Liberation Sans, sans-serif" fill="#111" stroke="#111" stroke-width="0.25" lengthAdjust="spacingAndGlyphs" textLength="96">50 cells Rh-low (ver)</text>
<text x="328" y="16.4" font-size="10" font-weight="bold" font-family="Liberation Sans, sans-serif" fill="#111" stroke="#111" stroke-width="0.25" lengthAdjust="spacingAndGlyphs" textLength="100.8">50 cells Rh-high (ver)</text>
<text x="158.8" y="237.4" font-size="10" font-weight="bold" font-family="Liberation Sans, sans-serif" fill="#111" stroke="#111" stroke-width="0.25" lengthAdjust="spacingAndGlyphs" textLength="117.5">50 cells BodVer-low (ver)</text>
<text x="286.2" y="237" font-size="10" font-weight="bold" font-family="Liberation Sans, sans-serif" fill="#111" stroke="#111" stroke-width="0.25" lengthAdjust="spacingAndGlyphs" textLength="121.8">50 cells BodVer-high (ver)</text>
<rect x="416.5" y="28.9" width="94.7" height="62.2" fill="#555"/>
<rect x="415" y="27.4" width="94.7" height="62.2" fill="#fff" stroke="#111" stroke-width="1"/>
<clipPath id="clip27"><rect x="423.2" y="31.6" width="13.1" height="12.3"/></clipPath>
<rect x="423.2" y="31.6" width="13.1" height="12.3" fill="#fff"/>
<path d="M410.90,43.90 l12.30,-12.30 M413.35,43.90 l12.30,-12.30 M415.80,43.90 l12.30,-12.30 M418.25,43.90 l12.30,-12.30 M420.70,43.90 l12.30,-12.30 M423.15,43.90 l12.30,-12.30 M425.60,43.90 l12.30,-12.30 M428.05,43.90 l12.30,-12.30 M430.50,43.90 l12.30,-12.30 M432.95,43.90 l12.30,-12.30 M435.40,43.90 l12.30,-12.30 " stroke="#3a3a3a" stroke-width="0.8" fill="none" clip-path="url(#clip27)"/>
<rect x="423.2" y="31.6" width="13.1" height="12.3" fill="none" stroke="#111" stroke-width="1"/>
<rect x="423.2" y="52.8" width="13.1" height="12.3" fill="#adadad" stroke="#111" stroke-width="1"/>
<rect x="423.2" y="73.6" width="13.1" height="12.6" fill="#000" stroke="#111" stroke-width="1"/>
<text x="444.6" y="41.1" font-size="8.6" font-weight="bold" font-family="Liberation Sans, sans-serif" fill="#111" stroke="#111" stroke-width="0.25" textLength="32.0" lengthAdjust="spacingAndGlyphs">Donor T</text>
<text x="444.6" y="61.9" font-size="8.6" font-weight="bold" font-family="Liberation Sans, sans-serif" fill="#111" stroke="#111" stroke-width="0.25" textLength="32.5" lengthAdjust="spacingAndGlyphs">Donor B</text>
<text x="444.6" y="82.7" font-size="8.6" font-weight="bold" font-family="Liberation Sans, sans-serif" fill="#111" stroke="#111" stroke-width="0.25" textLength="57.0" lengthAdjust="spacingAndGlyphs">Donor Myeloid</text>
<rect x="417.2" y="249.5" width="94" height="62.4" fill="#555"/>
<rect x="415.7" y="248" width="94" height="62.4" fill="#fff" stroke="#111" stroke-width="1"/>
<clipPath id="clip248"><rect x="423.1" y="253.1" width="13.4" height="12.4"/></clipPath>
<rect x="423.1" y="253.1" width="13.4" height="12.4" fill="#fff"/>
<path d="M410.70,265.50 l12.40,-12.40 M413.15,265.50 l12.40,-12.40 M415.60,265.50 l12.40,-12.40 M418.05,265.50 l12.40,-12.40 M420.50,265.50 l12.40,-12.40 M422.95,265.50 l12.40,-12.40 M425.40,265.50 l12.40,-12.40 M427.85,265.50 l12.40,-12.40 M430.30,265.50 l12.40,-12.40 M432.75,265.50 l12.40,-12.40 M435.20,265.50 l12.40,-12.40 " stroke="#3a3a3a" stroke-width="0.8" fill="none" clip-path="url(#clip248)"/>
<rect x="423.1" y="253.1" width="13.4" height="12.4" fill="none" stroke="#111" stroke-width="1"/>
<rect x="423.1" y="273.9" width="13.4" height="12.4" fill="#adadad" stroke="#111" stroke-width="1"/>
<rect x="423.1" y="294.3" width="13.4" height="12.6" fill="#000" stroke="#111" stroke-width="1"/>
<text x="445" y="261.9" font-size="8.6" font-weight="bold" font-family="Liberation Sans, sans-serif" fill="#111" stroke="#111" stroke-width="0.25" textLength="31.8" lengthAdjust="spacingAndGlyphs">Donor T</text>
<text x="445" y="282.7" font-size="8.6" font-weight="bold" font-family="Liberation Sans, sans-serif" fill="#111" stroke="#111" stroke-width="0.25" textLength="32.3" lengthAdjust="spacingAndGlyphs">Donor B</text>
<text x="445" y="303" font-size="8.6" font-weight="bold" font-family="Liberation Sans, sans-serif" fill="#111" stroke="#111" stroke-width="0.25" textLength="56.6" lengthAdjust="spacingAndGlyphs">Donor Myeloid</text>
</svg></body></html>
